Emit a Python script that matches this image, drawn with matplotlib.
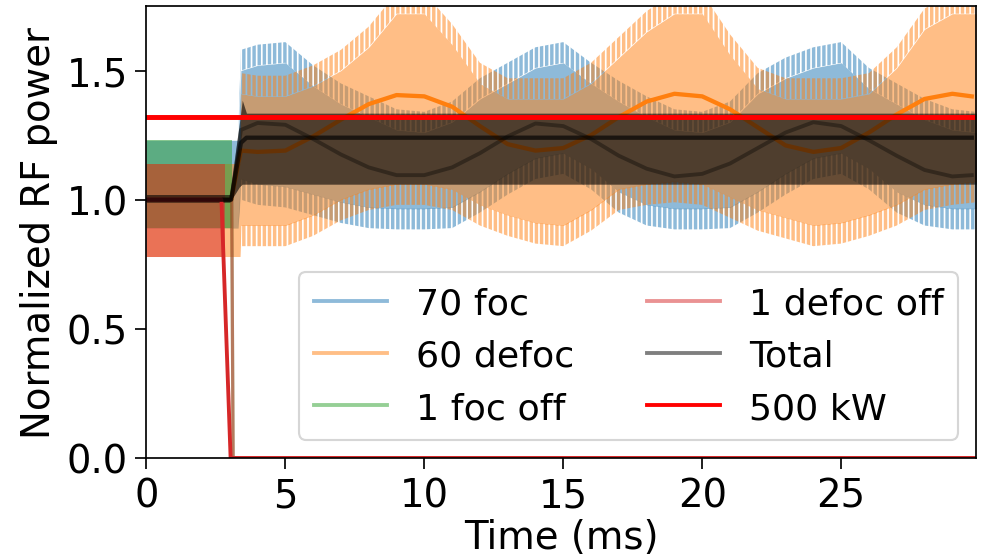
import numpy as np
import matplotlib
matplotlib.use("Agg")
import matplotlib.pyplot as plt
from matplotlib.lines import Line2D

plt.rcParams["font.size"] = 18
plt.rcParams["hatch.linewidth"] = 1.6

# czasy po wyłączeniu wnęk (ms)
t_post = [3.4, 4, 5, 6, 7, 8, 9, 10, 11, 12, 13, 14, 15, 16, 17, 18, 19, 20,
          21, 22, 23, 24, 25, 26, 27, 28, 29, 29.86]

# obwiednie 70 foc
foc_hi = [1.58, 1.60, 1.61, 1.52, 1.45, 1.40, 1.35, 1.34, 1.38, 1.47, 1.53, 1.59, 1.61, 1.53,
          1.46, 1.40, 1.35, 1.34, 1.38, 1.49, 1.55, 1.59, 1.61, 1.51, 1.45, 1.39, 1.35, 1.34]
foc_lo = [1.00, 0.98, 0.97, 0.94, 0.91, 0.89, 0.885, 0.885, 0.89, 0.95, 1.02, 1.08, 1.10, 1.04,
          0.95, 0.90, 0.885, 0.885, 0.89, 0.95, 1.02, 1.08, 1.10, 1.04, 0.95, 0.90, 0.885, 0.885]

# obwiednie 60 defoc
defoc_hi = [1.49, 1.48, 1.48, 1.52, 1.58, 1.67, 1.80, 1.80, 1.68, 1.53, 1.47, 1.47, 1.47, 1.53,
            1.63, 1.73, 1.80, 1.80, 1.64, 1.51, 1.47, 1.47, 1.47, 1.49, 1.59, 1.74, 1.80, 1.80]
defoc_lo = [0.82, 0.82, 0.82, 0.86, 0.92, 0.96, 0.98, 0.98, 0.96, 0.90, 0.86, 0.83, 0.82, 0.88,
            0.96, 0.98, 0.99, 0.98, 0.93, 0.88, 0.85, 0.82, 0.83, 0.86, 0.90, 0.96, 0.98, 0.99]

# przed wyłączeniem
pre_foc = (0.89, 1.23)
pre_defoc = (0.78, 1.14)
foc_pre_t = [0, 3.3]
defoc_pre_t = [0, 3.37]
foc_off_t = [0, 3.07]
defoc_off_t = [0, 2.83]

# suma
total_t = [0, 3.0, 3.35, 3.45, 3.6, 29.86]
total_lo = [0.99, 0.99, 1.05, 1.06, 1.06, 1.06]
total_hi = [1.02, 1.02, 1.30, 1.385, 1.335, 1.335]
total_mean_t = [0, 3.05, 3.4, 3.6, 29.7]
total_mean = [1.0, 1.0, 1.22, 1.24, 1.24]

# średnie
t_mean = [0, 3.05, 3.4, 4, 5, 6, 7, 8, 9, 10, 11, 12, 13, 14, 15, 16, 17, 18, 19, 20,
          21, 22, 23, 24, 25, 26, 27, 28, 29, 29.7]
defoc_mean = [1.0, 1.0, 1.19, 1.185, 1.19, 1.245, 1.31, 1.37, 1.405, 1.40, 1.36, 1.285, 1.215, 1.19,
              1.20, 1.25, 1.32, 1.38, 1.41, 1.40, 1.35, 1.28, 1.21, 1.185, 1.20, 1.26, 1.33, 1.39, 1.41, 1.40]
foc_mean = [1.0, 1.0, 1.27, 1.297, 1.29, 1.235, 1.175, 1.125, 1.095, 1.095, 1.125, 1.18, 1.245, 1.295,
            1.285, 1.235, 1.17, 1.12, 1.09, 1.10, 1.14, 1.20, 1.26, 1.30, 1.285, 1.23, 1.17, 1.115, 1.09, 1.095]

# spadek mocy wyłączonych wnęk
defoc_drop_t = [0, 2.7, 3.03, 29.86]
defoc_drop = [1.0, 1.0, 0.0, 0.0]
foc_drop_t = [0, 3.07, 3.12, 29.86]
foc_drop = [1.0, 1.0, 0.0, 0.0]

p_500kW = 1.32

labels = ["70 foc", "60 defoc", "1 foc off", "1 defoc off", "Total", "500 kW"]
colors = ["tab:blue", "tab:orange", "tab:green", "tab:red", "k", "red"]

SPIKE = 0.08  # szerokość strefy szpilek na brzegu pasma


def band(ax, t_pre, pre, lo, hi, color, z):
    t = np.array(t_pre + t_post)
    lo = np.array([pre[0]] * 2 + lo)
    hi = np.array([pre[1]] * 2 + hi)
    n = len(t_pre)
    inner_lo = lo.copy()
    inner_hi = hi.copy()
    inner_lo[n:] += SPIKE
    inner_hi[n:] -= SPIKE
    ax.fill_between(t, inner_lo, inner_hi, color=color, alpha=0.5, lw=0, zorder=z)
    tp = t[n - 1:]
    for a, b in [(hi[n - 1:], inner_hi[n - 1:]), (inner_lo[n - 1:], lo[n - 1:])]:
        ax.fill_between(tp, a, b, facecolor="none", edgecolor=color, hatch="|||||",
                        alpha=0.5, lw=0, zorder=z)


fig = plt.figure(figsize=(6.4, 3.611), dpi=154.25)
ax = fig.add_axes([0.1483, 0.176, 0.8406, 0.8115])

band(ax, foc_pre_t, pre_foc, foc_lo, foc_hi, "tab:blue", 1.0)
band(ax, defoc_pre_t, pre_defoc, defoc_lo, defoc_hi, "tab:orange", 1.1)
ax.plot(t_mean, defoc_mean, color="tab:orange", lw=2, zorder=1.2)
ax.fill_between(foc_off_t, [pre_foc[0]] * 2, [pre_foc[1]] * 2, color="tab:green", alpha=0.5, lw=0, zorder=1.3)
ax.fill_between(defoc_off_t, [pre_defoc[0]] * 2, [pre_defoc[1]] * 2, color="tab:red", alpha=0.5, lw=0, zorder=1.4)

ax.plot(foc_drop_t, foc_drop, color="tab:green", alpha=0.5, lw=1.5, zorder=1.5)
ax.plot(foc_drop_t, foc_drop, color="tab:red", alpha=0.5, lw=1.5, zorder=1.5)

ax.fill_between(total_t, total_lo, total_hi, color="k", alpha=0.6, lw=0, zorder=1.6)
ax.plot(defoc_drop_t, defoc_drop, color="tab:red", lw=1.8, zorder=1.7)
ax.plot(t_mean, foc_mean, color="k", alpha=0.35, lw=1.8, zorder=1.8)
ax.plot(total_mean_t, total_mean, color="k", alpha=0.65, lw=2, zorder=1.9)
ax.axhline(p_500kW, color="red", lw=2.3, zorder=2.5)

ax.set_xlim(0, 29.86)
ax.set_ylim(0, 1.75)
ax.set_xticks([0, 5, 10, 15, 20, 25])
ax.set_yticks([0, 0.5, 1.0, 1.5])
ax.tick_params(length=5)
ax.set_xlabel("Time (ms)", labelpad=2)
ax.set_ylabel("Normalized RF power")

alphas = [0.5, 0.5, 0.5, 0.5, 0.5, 1.0]
handles = [Line2D([], [], color=c, alpha=a, lw=1.8, label=l) for c, a, l in zip(colors, alphas, labels)]
ax.legend(handles=handles, loc="lower right", ncol=2, fontsize=17)

fig.savefig("out.png", dpi=154.25)
